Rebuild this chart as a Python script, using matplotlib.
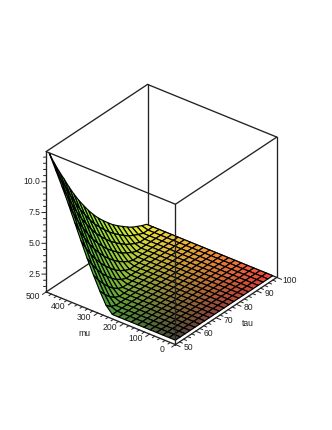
import numpy as np
import matplotlib
matplotlib.use("Agg")
import matplotlib.pyplot as plt

plt.rcParams['font.family'] = ['Liberation Sans', 'DejaVu Sans']

tau_values = [50, 52.4, 54.8, 57.2, 59.6, 62, 64.4, 66.8, 69.2, 71.6, 74, 76.4, 78.8, 81.2, 83.6,
              86, 88.4, 90.8, 93.2, 95.6, 98]
mu_values = [0, 24.4, 48.8, 73.2, 97.6, 122, 146.4, 170.8, 195.2, 219.6, 244, 268.4, 292.8,
             317.2, 341.6, 366, 390.4, 414.8, 439.2, 463.6, 488]
floor = 1.41
# height rows, one per tau; the plateau value followed by the rising part
z_rows = [
    [floor]*11 + [1.95, 2.91, 3.99, 5.14, 6.39, 7.67, 8.96, 10.16, 11.29, 12.42],
    [floor]*11 + [1.59, 2.38, 3.32, 4.39, 5.53, 6.72, 7.95, 9.19, 10.30, 11.38],
    [floor]*12 + [1.92, 2.78, 3.73, 4.75, 5.89, 7.03, 8.21, 9.39, 10.44],
    [floor]*12 + [1.59, 2.29, 3.14, 4.11, 5.12, 6.21, 7.32, 8.45, 9.57],
    [floor]*13 + [1.88, 2.66, 3.52, 4.46, 5.47, 6.51, 7.59, 8.67],
    [floor]*13 + [1.58, 2.22, 3.01, 3.88, 4.78, 5.80, 6.79, 7.83],
    [floor]*14 + [1.86, 2.57, 3.34, 4.21, 5.11, 6.08, 7.06],
    [floor]*14 + [1.58, 2.16, 2.89, 3.68, 4.51, 5.41, 6.36],
    [floor]*15 + [1.84, 2.48, 3.19, 3.99, 4.80, 5.70],
    [floor]*15 + [1.58, 2.11, 2.79, 3.51, 4.29, 5.10],
    [floor]*16 + [1.82, 2.41, 3.07, 3.81, 4.56],
    [floor]*16 + [1.57, 2.06, 2.70, 3.36, 4.08],
    [floor]*17 + [1.80, 2.35, 2.97, 3.64],
    [floor]*17 + [1.57, 2.02, 2.62, 3.22],
    [floor]*18 + [1.78, 2.29, 2.87],
    [floor]*18 + [1.57, 1.98, 2.55],
    [floor]*19 + [1.77, 2.24],
    [floor]*19 + [1.57, 1.96],
    [floor]*20 + [1.76],
    [floor]*20 + [1.56],
    [floor]*21,
]
mu_ticks = [0, 100, 200, 300, 400, 500]
tau_ticks = [50, 60, 70, 80, 90, 100]
z_ticks = [2.5, 5.0, 7.5, 10.0]
mu_lim = (0, 500)
tau_lim = (50, 100)
z_lim = (1.05, 12.45)

fig = plt.figure(figsize=(3.32, 4.30), dpi=100)
ax = fig.add_axes([-9 / 332, -4 / 430, 1, 1], projection='3d', computed_zorder=False, proj_type='ortho')
ax.set_box_aspect((1, 1, 1), zoom=0.832)
ax.view_init(elev=31.3, azim=218.1)
ax.set_xlim(*tau_lim, view_margin=0)
ax.set_ylim(*mu_lim, view_margin=0)
ax.set_zlim(*z_lim, view_margin=0)
ax.set_axis_off()

T, M = np.meshgrid(tau_values, mu_values, indexing='ij')
Z = np.array(z_rows)
colors = np.zeros(T.shape + (4,))
colors[..., 0] = 0.30 + 0.70 * (T - tau_lim[0]) / (tau_lim[1] - tau_lim[0])
colors[..., 1] = 0.28 + 0.67 * M / mu_lim[1]
colors[..., 2] = 0.22
colors[..., 3] = 1.0
ax.plot_surface(T, M, Z, facecolors=colors, rstride=1, cstride=1, shade=False,
                edgecolor='black', linewidth=0.85, antialiased=True, zorder=2)

t0, t1 = tau_lim
m0, m1 = mu_lim
z0, z1 = z_lim
line = dict(color='#222222', lw=0.95, solid_capstyle='round')


def seg(a, b, zo):
    ax.plot([a[0], b[0]], [a[1], b[1]], [a[2], b[2]], zorder=zo, **line)


# edges behind the surface
seg((t1, m1, z0), (t1, m1, z1), 1)
seg((t0, m1, z0), (t1, m1, z0), 1)
seg((t1, m0, z0), (t1, m1, z0), 1)
# edges in front of it
seg((t0, m0, z0), (t0, m0, z1), 3)
seg((t1, m0, z0), (t1, m0, z1), 3)
seg((t0, m1, z0), (t0, m1, z1), 3)
seg((t0, m0, z0), (t0, m1, z0), 3)
seg((t0, m0, z0), (t1, m0, z0), 3)
seg((t0, m0, z1), (t0, m1, z1), 3)
seg((t0, m0, z1), (t1, m0, z1), 3)
seg((t1, m1, z1), (t0, m1, z1), 3)
seg((t1, m1, z1), (t1, m0, z1), 3)

tick = dict(color='#222222', lw=0.7)
for m in np.arange(m0, m1 + 1, 20):
    d = 1.8 if m % 100 == 0 else 1.1
    ax.plot([t0, t0 - d], [m, m], [z0, z0], zorder=3, **tick)
for t in np.arange(t0, t1 + 0.1, 2):
    d = 18 if t % 10 == 0 else 11
    ax.plot([t, t], [m0, m0 - d], [z0, z0], zorder=3, **tick)
for z in np.arange(1.5, z1, 0.5):
    k = 1.0 if z % 2.5 == 0 else 0.6
    ax.plot([t0, t0 - 0.8 * k], [m1, m1 + 10 * k], [z, z], zorder=3, **tick)

txt = dict(fontsize=6.2, color='#222222', va='center', zorder=4)
for m in mu_ticks:
    ax.text(t0 - 4.6, m + 16.4, z0, str(m), ha='center', **txt)
for t in tau_ticks:
    ax.text(t + 1.1, m0 - 40, z0, str(t), ha='center', **txt)
for z in z_ticks:
    ax.text(t0 - 1.04, m1 + 13.1, z, f"{z:.1f}", ha='right', **txt)
ax.text(37.9, 259, z0, "mu", ha='center', **txt)
ax.text(73.4, m0 - 97.5, z0, "tau", ha='center', **txt)

fig.savefig("out.png", dpi=100)
